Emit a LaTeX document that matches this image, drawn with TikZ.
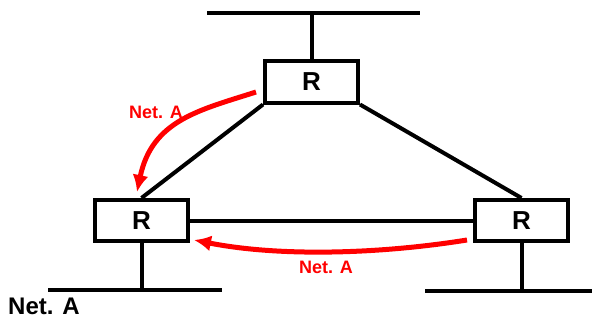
\documentclass[tikz,border=0pt]{standalone}
\usepackage{fontspec}
\setmainfont{Liberation Sans}
\usetikzlibrary{arrows.meta}

\tikzset{
  router/.style={draw=black,line width=4pt,fill=white,minimum width=93pt,minimum height=41pt,inner sep=0pt,font=\fontsize{26}{26}\selectfont\bfseries},
  wire/.style={draw=black,line width=4pt},
  route/.style={draw=red,line width=5pt,-{Latex[length=17pt,width=16pt]}},
  netlabel/.style={text=red,font=\fontsize{18}{18}\selectfont\bfseries,inner sep=0pt}
}

\begin{document}
\begin{tikzpicture}[x=1pt,y=-1pt]
\useasboundingbox (0,0) rectangle (592,321);
% buses
\coordinate (bus_top_l) at (207,13);
\coordinate (bus_top_r) at (420,13);
\coordinate (bus_a_l) at (48,290);
\coordinate (bus_a_r) at (222,290);
\coordinate (bus_c_l) at (425,291);
\coordinate (bus_c_r) at (592,291);
\draw[wire] (bus_top_l)--(bus_top_r);
\draw[wire] (bus_a_l)--(bus_a_r);
\draw[wire] (bus_c_l)--(bus_c_r);
% routers
\node[router] (r_top) at (311.5,82) {R};
\node[router] (r_left) at (141.5,220.5) {R};
\node[router] (r_right) at (521.5,220.5) {R};
\draw[wire] (r_top.north)--(r_top.north |- bus_top_l);
\draw[wire] (r_left.south)--(r_left.south |- bus_a_l);
\draw[wire] (r_right.south)--(r_right.south |- bus_c_l);
% links
\draw[wire] (r_top.south west)--(r_left.north);
\draw[wire] (r_top.south east)--(r_right.north);
\draw[wire] (r_left.east)--(r_right.west);
% routes towards Net. A
\coordinate (from_top) at (256,92);
\coordinate (to_left_a) at (137,192);
\coordinate (from_right) at (467,240);
\coordinate (to_left_b) at (194,240);
\draw[route] (from_top) .. controls (200,110) and (152,120) .. (to_left_a);
\draw[route] (from_right) .. controls (380,254) and (280,257) .. (to_left_b);
\node[netlabel] (lbl_top) at (156,112) {Net. A};
\node[netlabel] (lbl_right) at (326,267) {Net. A};
\node[font=\fontsize{24}{24}\selectfont\bfseries,anchor=west,inner sep=0pt] (lbl_net) at (8,306) {Net. A};
\end{tikzpicture}
\end{document}
